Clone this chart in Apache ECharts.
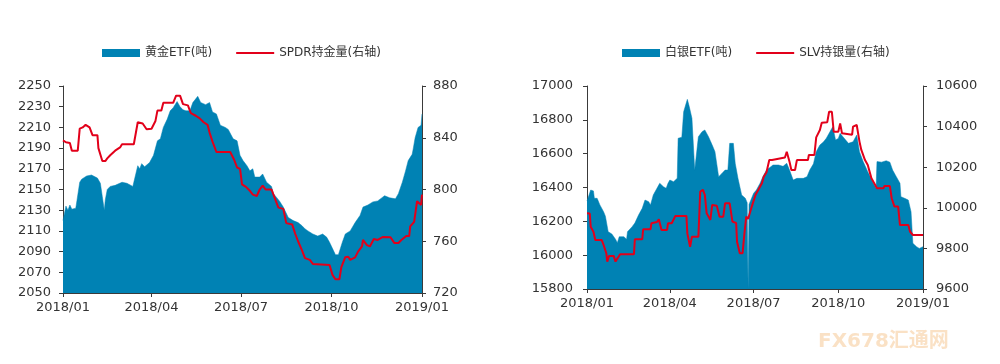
<!DOCTYPE html>
<html><head><meta charset="utf-8">
<script src="https://cdn.jsdelivr.net/npm/echarts@6/dist/echarts.min.js"></script>
<style>html,body{margin:0;padding:0;background:#fff}#c{width:1000px;height:364px}</style>
</head><body><div id="c"></div>
<script>
// x values: day offsets from 2018-01-01
const quarterLabels = ['2018/01','2018/04','2018/07','2018/10','2019/01'];
const goldDay = [0,2,3,5,7,9,13,15,17,19,24,29,35,38,40,42,43,45,48,53,60,65,71,73,76,78,80,83,88,92,96,99,102,106,109,112,116,119,122,125,129,132,137,140,145,149,152,156,160,165,168,173,177,180,183,187,190,193,195,200,203,207,212,214,220,224,229,234,239,243,246,249,254,259,264,268,271,275,277,280,284,287,292,297,302,305,310,315,320,327,332,338,341,345,348,351,355,356,358,361,364,365];
const goldEtf = [2120,2121,2134,2130,2135,2131,2132,2133,2157,2160,2163,2164,2161,2156,2143,2130,2140,2150,2153,2154,2157,2156,2153,2161,2173,2170,2175,2172,2176,2183,2197,2199,2210,2218,2226,2229,2235,2230,2227,2226,2226,2234,2240,2234,2232,2234,2225,2223,2212,2210,2208,2199,2197,2183,2178,2173,2168,2170,2162,2162,2165,2157,2153,2146,2139,2133,2123,2120,2118,2115,2112,2110,2107,2105,2107,2104,2099,2091,2087,2087,2099,2107,2110,2118,2125,2133,2135,2138,2139,2144,2142,2141,2146,2157,2167,2178,2184,2189,2200,2210,2212,2223];
const spdrDay = [0,3,7,9,15,17,20,23,27,30,35,36,40,43,45,48,53,58,60,72,76,81,85,90,94,96,100,102,112,115,119,122,127,130,135,139,143,147,149,152,156,170,174,177,180,182,186,190,193,197,200,203,206,212,216,219,224,227,233,236,239,243,246,251,254,271,274,277,281,283,287,290,292,297,300,304,305,309,312,316,320,325,333,337,341,344,349,352,353,357,359,360,364,365];
const spdrHold = [838,836.5,836,830,830,847,848,850,848,842,842,832,822,822,824,826.5,830,832.5,835,835,852,851,846.6,847,853,861,861,867,867,872.5,872.5,866,865,859,857,855,852,850,844,837,829,829,823,817,816,804,802,799,796,795,800,803,800,800,792,786,785,774,773,766,760,753,747,745.6,742.5,741.7,734,730.6,730.6,740,747.7,748,745.6,747.5,752,756,761,757,756,761.7,761,763.3,763,758.6,758.6,761,764,764,771.5,775,776,791,788,796];
const silverDay = [0,4,7,8,11,14,16,18,20,23,27,31,33,35,40,43,44,49,52,56,60,63,67,69,72,76,79,83,86,88,90,94,98,99,103,105,109,111,114,117,121,125,128,132,136,139,143,146,150,153,155,159,161,164,168,172,174,175,176,177,181,184,188,191,195,199,202,208,213,217,220,224,228,235,239,242,246,249,253,257,260,265,267,270,273,275,278,284,289,293,294,296,300,305,311,314,315,320,325,329,332,336,340,341,345,349,352,354,358,361,365];
const silverEtf = [16320,16385,16380,16336,16336,16297,16305,16257,16230,16139,16125,16094,16074,16109,16109,16094,16139,16168,16190,16237,16277,16326,16316,16297,16356,16395,16425,16405,16395,16425,16444,16434,16454,16691,16697,16848,16921,16880,16809,16503,16700,16730,16740,16700,16651,16612,16464,16480,16503,16503,16661,16661,16543,16454,16356,16336,16310,15800,16300,16307,16366,16385,16425,16464,16503,16520,16533,16533,16525,16543,16503,16444,16454,16454,16464,16503,16540,16612,16651,16670,16691,16740,16759,16681,16690,16720,16700,16661,16670,16710,16700,16612,16553,16493,16425,16395,16553,16550,16558,16550,16503,16464,16425,16346,16336,16326,16257,16070,16050,16040,16050];
const slvDay = [0,3,4,7,9,16,18,21,22,24,29,31,33,36,51,52,60,61,69,70,76,78,80,81,87,88,92,96,108,109,112,114,121,123,126,128,130,134,136,141,144,148,150,155,158,162,163,166,169,171,173,175,177,179,183,186,190,192,195,198,201,203,215,217,220,222,226,228,240,241,247,249,253,255,261,263,266,268,273,275,277,288,289,293,294,296,298,302,305,309,312,315,322,323,329,331,334,338,340,349,351,354,365];
const slvHold = [9973,9972,9907,9882,9841,9841,9817,9776,9735,9763,9763,9735,9750,9771,9771,9845,9845,9894,9894,9924,9930,9943,9943,9891,9891,9924,9924,9960,9960,9874,9808,9858,9858,10080,10088,10063,9973,9940,10014,10010,9956,9956,10022,10022,9932,9925,9833,9776,9776,9874,9956,9945,9940,10006,10063,10088,10121,10153,10175,10235,10235,10244,10248,10276,10227,10186,10186,10235,10235,10260,10260,10347,10383,10419,10422,10473,10473,10375,10375,10416,10367,10360,10400,10408,10408,10326,10285,10235,10211,10145,10121,10096,10096,10107,10107,10047,10006,10006,9915,9915,9882,9866,9866];

const names = ['黄金ETF(吨)','SPDR持金量(右轴)','白银ETF(吨)','SLV持银量(右轴)'];
const BLUE = '#0082B4', RED = '#E2001A', AXIS = '#3a3a3a';
const FONT = '"DejaVu Sans","Noto Sans CJK SC",sans-serif';
const LINE_ICON = 'path://M0,0h38v2h-38z';

const cats = [];
for (let t = Date.UTC(2018,0,1); t <= Date.UTC(2019,0,1); t += 86400000) {
  const d = new Date(t);
  cats.push(d.getUTCFullYear() + '/' + String(d.getUTCMonth()+1).padStart(2,'0') + '/' + String(d.getUTCDate()).padStart(2,'0'));
}
const isQ = (i, v) => v.endsWith('/01') && quarterLabels.includes(v.slice(0,7));
const pair = (xs, ys) => xs.map((x, i) => [x, ys[i]]);

function xAxis(gi) {
  return {
    type: 'category', gridIndex: gi, data: cats, boundaryGap: false,
    axisLine: {lineStyle: {color: AXIS, width: 1}},
    axisTick: {show: true, interval: isQ, length: 4, lineStyle: {color: AXIS}},
    axisLabel: {interval: isQ, formatter: v => v.slice(0,7), color: '#333', fontSize: 13, fontFamily: FONT, margin: 8}
  };
}
function yAxis(gi, pos, min, max, interval, margin) {
  return {
    type: 'value', gridIndex: gi, position: pos, min, max, interval,
    splitLine: {show: false},
    axisLine: {show: true, lineStyle: {color: AXIS}},
    axisTick: {show: true, length: 4, lineStyle: {color: AXIS}},
    axisLabel: {color: '#333', fontSize: 13, fontFamily: FONT, margin, formatter: v => String(v)}
  };
}
function areaSeries(name, xi, yi, data) {
  return {name, type: 'line', xAxisIndex: xi, yAxisIndex: yi, data, symbol: 'none', showSymbol: false,
    lineStyle: {width: 0.5, color: BLUE}, itemStyle: {color: BLUE}, areaStyle: {color: BLUE, opacity: 1}, z: 2};
}
function lineSeries(name, xi, yi, data) {
  return {name, type: 'line', xAxisIndex: xi, yAxisIndex: yi, data, symbol: 'none', showSymbol: false,
    lineStyle: {width: 2, color: RED}, itemStyle: {color: RED}, z: 3};
}
const legendBase = {top: 47, padding: 0, itemWidth: 38, itemHeight: 8, itemGap: 24, textStyle: {fontSize: 12, color: '#333', fontFamily: FONT}};

const chart = echarts.init(document.getElementById('c'), null, {renderer: 'canvas'});
chart.setOption({
  animation: false,
  backgroundColor: '#fff',
  legend: [
    Object.assign({left: 102, data: [{name: names[0], icon: 'rect'}, {name: names[1], icon: LINE_ICON}]}, legendBase),
    Object.assign({left: 622, data: [{name: names[2], icon: 'rect'}, {name: names[3], icon: LINE_ICON}]}, legendBase)
  ],
  grid: [
    {left: 63, right: 578, top: 86, bottom: 71},
    {left: 587, right: 77, top: 86, bottom: 75}
  ],
  xAxis: [xAxis(0), xAxis(1)],
  yAxis: [
    yAxis(0, 'left', 2050, 2250, 20, 12),
    yAxis(0, 'right', 720, 880, 40, 11),
    yAxis(1, 'left', 15800, 17000, 200, 14),
    yAxis(1, 'right', 9600, 10600, 200, 13)
  ],
  series: [
    areaSeries(names[0], 0, 0, pair(goldDay, goldEtf)),
    lineSeries(names[1], 0, 1, pair(spdrDay, spdrHold)),
    areaSeries(names[2], 1, 2, pair(silverDay, silverEtf)),
    lineSeries(names[3], 1, 3, pair(slvDay, slvHold))
  ],
  graphic: [{type: 'text', left: 818, top: 332, style: {text: 'FX678汇通网', fontSize: 20, fontWeight: 'bold', fill: 'rgba(240,170,90,0.35)', fontFamily: FONT}}]
});
</script></body></html>
